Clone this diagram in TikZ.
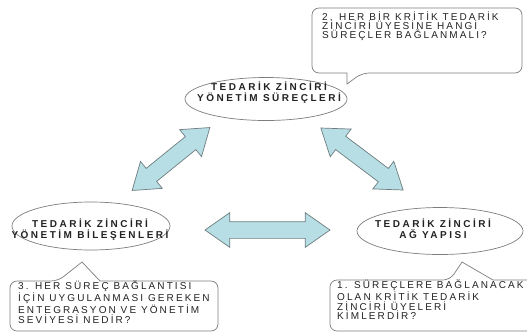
\documentclass[tikz,border=0pt]{standalone}
\usepackage{fontspec}
\setmainfont{Liberation Sans}
\newfontfamily\wideFont[LetterSpace=25]{Liberation Sans}
\newfontfamily\askFont[LetterSpace=21]{Liberation Sans}
\usetikzlibrary{shapes.geometric,shapes.arrows}
\definecolor{arrowfill}{RGB}{183,222,228}
\definecolor{arrowline}{RGB}{110,125,128}
\definecolor{lineGray}{RGB}{125,125,125}
\definecolor{textGray}{RGB}{35,35,35}
\tikzset{
    proc/.style={ellipse, draw=lineGray, line width=0.7pt, inner sep=0pt},
    procText/.style={align=center, inner sep=0pt, text=textGray,
            font=\wideFont\bfseries\fontsize{10}{11}\selectfont},
    fatArrow/.style={double arrow, draw=arrowline, fill=arrowfill, line width=0.7pt,
            inner xsep=0pt, inner ysep=8pt, minimum width=34, double arrow head extend=9,
            double arrow tip angle=70},
    question/.style={align=left, inner sep=0pt, anchor=north west, text=textGray,
            font=\askFont\fontsize{10}{9.6}\selectfont},
    qBox/.style={draw=lineGray, line width=0.7pt},
}

\begin{document}
\begin{tikzpicture}[x=1pt, y=-1pt]
        \useasboundingbox[fill=white] (0,0) rectangle (527,333);
        %draw the three ellipses
        \node[proc, minimum width=162, minimum height=43] (surec) at (266,99) {};
        \node[proc, minimum width=158, minimum height=48] (bilesen) at (91,226) {};
        \node[proc, minimum width=166, minimum height=47] (yapi) at (440,231) {};
        %label the ellipses
        \node[procText] (surecText) at (269,93) {TEDARİK ZİNCİRİ\\YÖNETİM SÜREÇLERİ};
        \node[procText] (bilesenText) at (90,229.5) {TEDARİK ZİNCİRİ\\YÖNETİM BİLEŞENLERİ};
        \node[procText] (yapiText) at (433,228.5) {TEDARİK ZİNCİRİ\\AĞ YAPISI};
        %draw the double arrows between them
        \node[fatArrow, minimum height=100, rotate=39] (arrowLeft) at (171,159) {};
        \node[fatArrow, minimum height=103, rotate=-37] (arrowRight) at (362,159) {};
        \node[fatArrow, minimum height=125] (arrowBottom) at (267.5,230) {};
        %draw the callout boxes
        \draw[qBox] (347,84) -- (347,73) [rounded corners=7pt] -- (312,73) -- (312,8)
            -- (522,8) -- (522,73) -- (362,73) [sharp corners] -- cycle;
        \draw[qBox] (82,262) -- (100,281) [rounded corners=7pt] -- (218,281) -- (218,331)
            -- (10,331) -- (10,281) -- (58,281) [sharp corners] -- cycle;
        \draw[qBox] (462,262) -- (493,280) [rounded corners=7pt] -- (540,280) -- (540,331)
            -- (330,331) -- (330,280) -- (450,280) [sharp corners] -- cycle;
        %label the callout boxes
        \node[question, font=\askFont\fontsize{10}{9}\selectfont] (q2) at (322,12) {2. HER BİR KRİTİK TEDARİK\\ZİNCİRİ ÜYESİNE HANGİ\\SÜREÇLER BAĞLANMALI?};
        \node[question] (q3) at (18,281) {3. HER SÜREÇ BAĞLANTISI\\İÇİN UYGULANMASI GEREKEN\\ENTEGRASYON VE YÖNETİM\\SEVİYESİ NEDİR?};
        \node[question] (q1) at (337,280) {1. SÜREÇLERE BAĞLANACAK\\OLAN KRİTİK TEDARİK\\ZİNCİRİ ÜYELERİ\\KİMLERDİR?};
    \end{tikzpicture}
\end{document}
